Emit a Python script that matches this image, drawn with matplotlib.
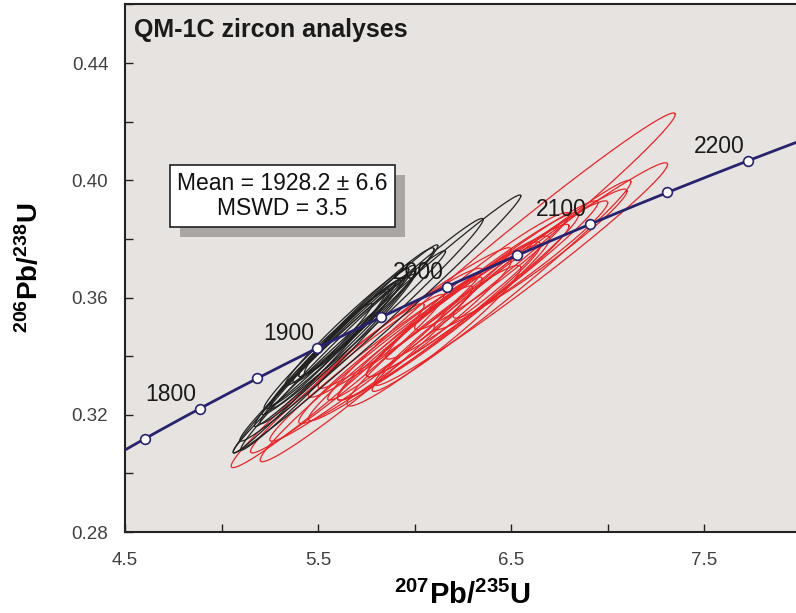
import numpy as np
import matplotlib
matplotlib.use("Agg")
import matplotlib.pyplot as plt
from matplotlib.patches import Rectangle

plt.rcParams['font.family'] = ['Liberation Sans', 'DejaVu Sans']
plt.rcParams['mathtext.fontset'] = 'custom'
plt.rcParams['mathtext.rm'] = 'Liberation Sans'
plt.rcParams['mathtext.bf'] = 'Liberation Sans:bold'

# decay constants (per year)
L238 = 1.55125e-10
L235 = 9.8485e-10

# concordia ages (Ma)
marker_ages = [1750, 1800, 1850, 1900, 1950, 2000, 2050, 2100, 2150, 2200]
label_ages = [1800, 1900, 2000, 2100, 2200]

# spot analyses: 207Pb/235U, 2s, 206Pb/238U, 2s, rho
blk_x = [5.805, 5.725, 5.645, 5.685, 5.60, 5.55, 5.65, 5.70, 5.50, 5.60, 5.75, 5.62, 5.55, 5.68, 5.48]
blk_sx = [0.745, 0.63, 0.475, 0.475, 0.35, 0.30, 0.32, 0.30, 0.28, 0.40, 0.35, 0.25, 0.45, 0.25, 0.42]
blk_y = [0.351, 0.349, 0.347, 0.348, 0.345, 0.342, 0.350, 0.352, 0.340, 0.343, 0.355, 0.347, 0.338, 0.350, 0.336]
blk_sy = [0.044, 0.038, 0.031, 0.028, 0.022, 0.020, 0.020, 0.019, 0.018, 0.026, 0.022, 0.016, 0.030, 0.016, 0.029]
blk_rho = [0.993, 0.99, 0.99, 0.99, 0.985, 0.98, 0.98, 0.98, 0.98, 0.985, 0.98, 0.975, 0.99, 0.97, 0.99]

red_x = [5.55, 5.65, 5.80, 5.95, 6.05, 6.15, 6.20, 6.30, 6.35, 6.45, 6.55, 6.45, 6.55, 6.65, 6.40, 5.90, 6.00, 5.75, 6.10, 6.25]
red_sx = [0.50, 0.50, 0.55, 0.55, 0.60, 0.55, 0.60, 0.55, 0.60, 0.90, 0.76, 0.67, 0.45, 0.45, 0.40, 0.45, 0.50, 0.55, 0.45, 0.40]
red_y = [0.330, 0.334, 0.339, 0.345, 0.348, 0.353, 0.355, 0.361, 0.363, 0.374, 0.368, 0.364, 0.371, 0.375, 0.369, 0.348, 0.353, 0.334, 0.347, 0.359]
red_sy = [0.028, 0.027, 0.028, 0.028, 0.030, 0.028, 0.030, 0.028, 0.030, 0.049, 0.038, 0.036, 0.022, 0.022, 0.020, 0.022, 0.024, 0.030, 0.024, 0.020]
red_rho = [0.98, 0.98, 0.98, 0.975, 0.98, 0.97, 0.98, 0.975, 0.98, 0.99, 0.985, 0.985, 0.97, 0.97, 0.965, 0.97, 0.975, 0.98, 0.965, 0.965]


def ellipse_xy(x, sx, y, sy, rho, n=200):
    t = np.linspace(0, 2 * np.pi, n)
    ex = x + sx * np.cos(t)
    ey = y + sy * (rho * np.cos(t) + np.sqrt(1 - rho ** 2) * np.sin(t))
    return ex, ey


def concordia(age_ma):
    t = np.asarray(age_ma, dtype=float) * 1e6
    return np.exp(L235 * t) - 1, np.exp(L238 * t) - 1


fig = plt.figure(figsize=(7.96, 6.13), dpi=100)
ax = fig.add_axes([0.157, 0.132, 0.849, 0.8607])
ax.set_facecolor('#e7e3e0')

for i in range(len(red_x)):
    ex, ey = ellipse_xy(red_x[i], red_sx[i], red_y[i], red_sy[i], red_rho[i])
    ax.plot(ex, ey, color='#e8262a', lw=0.9, zorder=2)

for i in range(len(blk_x)):
    ex, ey = ellipse_xy(blk_x[i], blk_sx[i], blk_y[i], blk_sy[i], blk_rho[i])
    ax.plot(ex, ey, color='#222222', lw=0.9, zorder=3)

# concordia curve with age markers
ages = np.linspace(1650, 2300, 300)
cx, cy = concordia(ages)
ax.plot(cx, cy, color='#27236e', lw=2.0, zorder=4)
mx, my = concordia(marker_ages)
ax.plot(mx, my, 'o', ms=7, mfc='white', mec='#27236e', mew=1.2, zorder=5)
for a in label_ages:
    lx, ly = concordia([a])
    ax.annotate(str(a), (lx[0], ly[0]), xytext=(-2.5, 2), textcoords='offset points',
                ha='right', va='bottom', fontsize=16.5, color='#1a1a1a', zorder=6)

ax.set_xlim(4.5, 8.0)
ax.set_ylim(0.28, 0.46)
ax.set_xticks([4.5, 5.5, 6.5, 7.5])
ax.set_xticks(np.arange(4.5, 8.01, 0.5), minor=True)
ax.set_yticks([0.28, 0.32, 0.36, 0.40, 0.44])
ax.set_yticks(np.arange(0.28, 0.461, 0.02), minor=True)
ax.set_yticklabels(['0.28', '0.32', '0.36', '0.40', '0.44'])
ax.set_xticklabels(['4.5', '5.5', '6.5', '7.5'])
ax.tick_params(which='both', direction='in', length=6, width=1.0, color='#222222')
ax.tick_params(axis='y', labelsize=13.5, labelcolor='#404040', pad=12)
ax.tick_params(axis='x', labelsize=13.5, labelcolor='#404040', pad=14)
for s in ax.spines.values():
    s.set_linewidth(1.5)
    s.set_color('#222222')

ax.set_xlabel(r'$\mathbf{^{207}Pb/^{235}U}$', fontsize=21, labelpad=9)
ax.set_ylabel(r'$\mathbf{^{206}Pb/^{238}U}$', fontsize=20, labelpad=20)

ax.text(0.014, 0.975, 'QM-1C zircon analyses', transform=ax.transAxes,
        ha='left', va='top', fontsize=18, fontweight='bold', color='#1a1a1a')

# mean age box, shadow rectangle placed from the box's drawn extent
box_txt = 'Mean = 1928.2 \u00b1 6.6\nMSWD = 3.5'
box = ax.text(0.233, 0.637, box_txt, transform=ax.transAxes, ha='center', va='center',
              fontsize=16.5, linespacing=1.15, color='#111111', zorder=8,
              bbox=dict(boxstyle='square,pad=0.3', fc='white', ec='#222222', lw=1.2))
fig.canvas.draw()
bb = box.get_bbox_patch().get_window_extent()
(x0, y0), (x1, y1) = ax.transAxes.inverted().transform([[bb.x0 + 10, bb.y0 - 10],
                                                        [bb.x1 + 10, bb.y1 - 10]])
ax.add_patch(Rectangle((x0, y0), x1 - x0, y1 - y0, transform=ax.transAxes,
                       fc='#a9a5a2', ec='none', zorder=7))

fig.savefig('out.png', dpi=100)
